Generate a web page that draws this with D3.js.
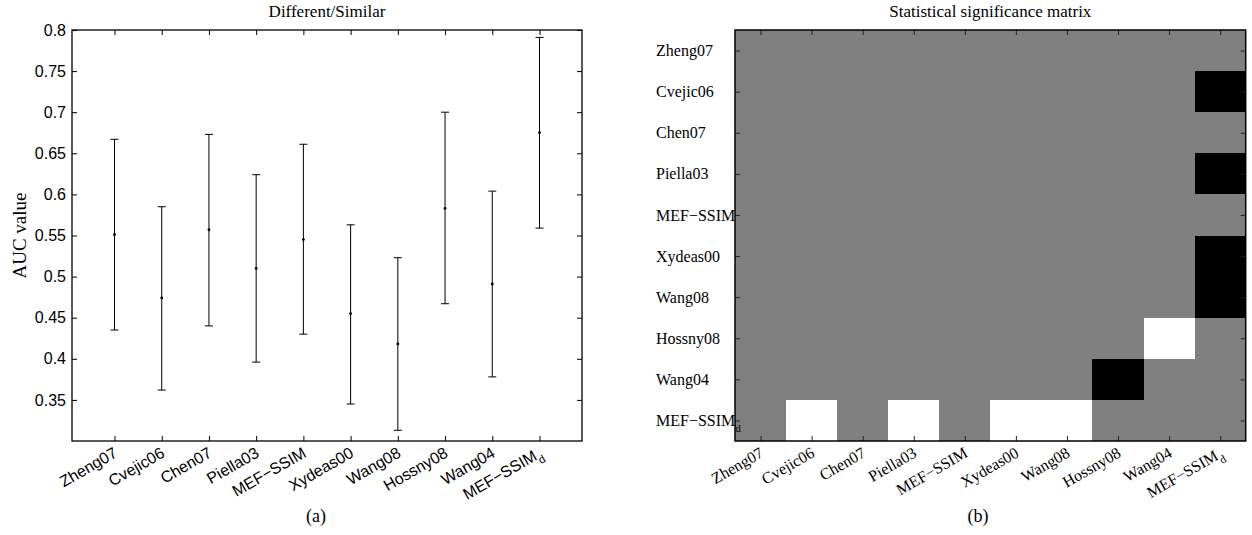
<!DOCTYPE html>
<html>
<head>
<meta charset="utf-8">
<script src="https://cdn.jsdelivr.net/npm/d3@7"></script>
<style>
  html, body { margin: 0; padding: 0; background: #fff; }
  svg { display: block; }
</style>
</head>
<body>
<svg id="chart" width="1252" height="535"></svg>
<script>
// ---------- data ----------
const methods = ["Zheng07","Cvejic06","Chen07","Piella03","MEF-SSIM","Xydeas00","Wang08","Hossny08","Wang04","MEF-SSIM_d"];
const aucMean  = [0.551, 0.474, 0.557, 0.510, 0.545, 0.455, 0.418, 0.583, 0.491, 0.675];
const aucUpper = [0.667, 0.585, 0.673, 0.624, 0.661, 0.563, 0.523, 0.700, 0.604, 0.791];
const aucLower = [0.435, 0.362, 0.440, 0.396, 0.430, 0.345, 0.313, 0.467, 0.378, 0.559];
const yTickValues = [0.35, 0.4, 0.45, 0.5, 0.55, 0.6, 0.65, 0.7, 0.75, 0.8];
// significance: 1 = row better (white), -1 = row worse (black), 0 = not significant (gray)
const sigRows = [
  [0,0,0,0,0,0,0,0,0,0],
  [0,0,0,0,0,0,0,0,0,-1],
  [0,0,0,0,0,0,0,0,0,0],
  [0,0,0,0,0,0,0,0,0,-1],
  [0,0,0,0,0,0,0,0,0,0],
  [0,0,0,0,0,0,0,0,0,-1],
  [0,0,0,0,0,0,0,0,0,-1],
  [0,0,0,0,0,0,0,0,1,0],
  [0,0,0,0,0,0,0,-1,0,0],
  [0,1,0,1,0,1,1,0,0,0]
];
const titleA = "Different/Similar";
const titleB = "Statistical significance matrix";
const yLabelA = "AUC value";

// ---------- helpers ----------
const svg = d3.select("#chart");
const SANS = "'Liberation Sans', Arial, Helvetica, sans-serif";
const SERIF = "'Liberation Serif', 'Times New Roman', Times, serif";

function writeLabel(sel, name) {
  const parts = name.split("_");
  sel.text(null);
  sel.append("tspan").text(parts[0].replace("-", "\u2212"));
  if (parts[1]) {
    sel.append("tspan").attr("baseline-shift", "sub").attr("font-size", "0.7em").text(parts[1]);
  }
}

// ---------- panel (a): error bars ----------
const A = { left: 72, right: 582, top: 30, bottom: 441 };
const x = d3.scaleLinear().domain([0.1, 10.9]).range([A.left, A.right]);
const y = d3.scaleLinear().domain([0.3, 0.8]).range([A.bottom, A.top]);
const idx = methods.map((d, i) => i + 1);

const gA = svg.append("g");

const axL = gA.append("g").attr("transform", `translate(${A.left},0)`)
  .call(d3.axisLeft(y).tickValues(yTickValues).tickSizeInner(-5).tickSizeOuter(0).tickPadding(6).tickFormat(d3.format("")));
axL.selectAll("text").attr("font-family", SANS).attr("font-size", 16).attr("fill", "#000");
const axR = gA.append("g").attr("transform", `translate(${A.right},0)`)
  .call(d3.axisRight(y).tickValues(yTickValues).tickSizeInner(-5).tickSizeOuter(0).tickFormat(""));
const axB = gA.append("g").attr("transform", `translate(0,${A.bottom})`)
  .call(d3.axisBottom(x).tickValues(idx).tickSizeInner(-5).tickSizeOuter(0).tickFormat(""));
const axT = gA.append("g").attr("transform", `translate(0,${A.top})`)
  .call(d3.axisTop(x).tickValues(idx).tickSizeInner(-5).tickSizeOuter(0).tickFormat(""));
[axL, axR, axB, axT].forEach(a => { a.select(".domain").remove(); a.selectAll("line").attr("stroke", "#000"); });

gA.append("rect").attr("x", A.left).attr("y", A.top)
  .attr("width", A.right - A.left).attr("height", A.bottom - A.top)
  .attr("fill", "none").attr("stroke", "#000").attr("stroke-width", 1.3);

gA.selectAll("text.xl").data(methods).enter().append("text")
  .attr("class", "xl")
  .attr("transform", (d, i) => `translate(${x(i + 1) + 4},${A.bottom + 15}) rotate(-30)`)
  .attr("text-anchor", "end")
  .attr("font-family", SANS).attr("font-size", 16)
  .each(function(d) { writeLabel(d3.select(this), d); });

const capW = 4;
const eb = gA.selectAll("g.eb").data(methods).enter().append("g").attr("class", "eb");
eb.append("line").attr("x1", (d, i) => x(i + 1)).attr("x2", (d, i) => x(i + 1))
  .attr("y1", (d, i) => y(aucUpper[i])).attr("y2", (d, i) => y(aucLower[i]))
  .attr("stroke", "#000").attr("stroke-width", 1);
eb.append("line").attr("x1", (d, i) => x(i + 1) - capW).attr("x2", (d, i) => x(i + 1) + capW)
  .attr("y1", (d, i) => y(aucUpper[i])).attr("y2", (d, i) => y(aucUpper[i]))
  .attr("stroke", "#000").attr("stroke-width", 1);
eb.append("line").attr("x1", (d, i) => x(i + 1) - capW).attr("x2", (d, i) => x(i + 1) + capW)
  .attr("y1", (d, i) => y(aucLower[i])).attr("y2", (d, i) => y(aucLower[i]))
  .attr("stroke", "#000").attr("stroke-width", 1);
eb.append("circle").attr("cx", (d, i) => x(i + 1)).attr("cy", (d, i) => y(aucMean[i]))
  .attr("r", 1.4).attr("fill", "#000");

gA.append("text").attr("x", (A.left + A.right) / 2).attr("y", 17)
  .attr("text-anchor", "middle").attr("font-family", SERIF).attr("font-size", 17).text(titleA);
gA.append("text").attr("transform", `translate(26,${(A.top + A.bottom) / 2}) rotate(-90)`)
  .attr("text-anchor", "middle").attr("font-family", SERIF).attr("font-size", 19).text(yLabelA);
gA.append("text").attr("x", 316).attr("y", 522)
  .attr("text-anchor", "middle").attr("font-family", SERIF).attr("font-size", 18).text("(a)");

// ---------- panel (b): significance matrix ----------
const B = { left: 735, right: 1245.7, top: 30, bottom: 441 };
const bx = d3.scaleBand().domain(methods).range([B.left, B.right]);
const by = d3.scaleBand().domain(methods).range([B.top, B.bottom]);
const color = d3.scaleOrdinal().domain([-1, 0, 1]).range(["#000000", "#808080", "#ffffff"]);

const gB = svg.append("g");
const cells = [];
sigRows.forEach((row, r) => row.forEach((v, c) => cells.push({ r: methods[r], c: methods[c], v })));
gB.selectAll("rect.cell").data(cells).enter().append("rect")
  .attr("class", "cell")
  .attr("x", d => Math.round(bx(d.c))).attr("y", d => Math.round(by(d.r)))
  .attr("width", d => Math.round(bx(d.c) + bx.bandwidth()) - Math.round(bx(d.c)))
  .attr("height", d => Math.round(by(d.r) + by.bandwidth()) - Math.round(by(d.r)))
  .attr("shape-rendering", "crispEdges")
  .attr("fill", d => color(d.v));

const bxc = d3.scalePoint().domain(methods).range([B.left + bx.bandwidth() / 2, B.right - bx.bandwidth() / 2]);
const byc = d3.scalePoint().domain(methods).range([B.top + by.bandwidth() / 2, B.bottom - by.bandwidth() / 2]);

const bL = gB.append("g").attr("transform", `translate(${B.left},0)`)
  .call(d3.axisLeft(byc).tickSizeInner(-5).tickSizeOuter(0).tickFormat(""));
const bR = gB.append("g").attr("transform", `translate(${B.right},0)`)
  .call(d3.axisRight(byc).tickSizeInner(-5).tickSizeOuter(0).tickFormat(""));
const bB = gB.append("g").attr("transform", `translate(0,${B.bottom})`)
  .call(d3.axisBottom(bxc).tickSizeInner(-5).tickSizeOuter(0).tickFormat(""));
const bT = gB.append("g").attr("transform", `translate(0,${B.top})`)
  .call(d3.axisTop(bxc).tickSizeInner(-5).tickSizeOuter(0).tickFormat(""));
[bL, bR, bB, bT].forEach(a => { a.select(".domain").remove(); a.selectAll("line").attr("stroke", "#222"); });

gB.append("rect").attr("x", B.left).attr("y", B.top)
  .attr("width", B.right - B.left).attr("height", B.bottom - B.top)
  .attr("fill", "none").attr("stroke", "#000").attr("stroke-width", 1.5);

gB.selectAll("text.yl").data(methods).enter().append("text")
  .attr("class", "yl")
  .attr("x", 656).attr("y", d => byc(d)).attr("dy", "0.35em")
  .attr("font-family", SERIF).attr("font-size", 16)
  .each(function(d) { writeLabel(d3.select(this), d); });

gB.selectAll("text.xl").data(methods).enter().append("text")
  .attr("class", "xl")
  .attr("transform", d => `translate(${bxc(d) + 4},${B.bottom + 15}) rotate(-30)`)
  .attr("text-anchor", "end")
  .attr("font-family", SERIF).attr("font-size", 16)
  .each(function(d) { writeLabel(d3.select(this), d); });

gB.append("text").attr("x", (B.left + B.right) / 2).attr("y", 17)
  .attr("text-anchor", "middle").attr("font-family", SERIF).attr("font-size", 17).text(titleB);
gB.append("text").attr("x", 978).attr("y", 522)
  .attr("text-anchor", "middle").attr("font-family", SERIF).attr("font-size", 18).text("(b)");
</script>
</body>
</html>
